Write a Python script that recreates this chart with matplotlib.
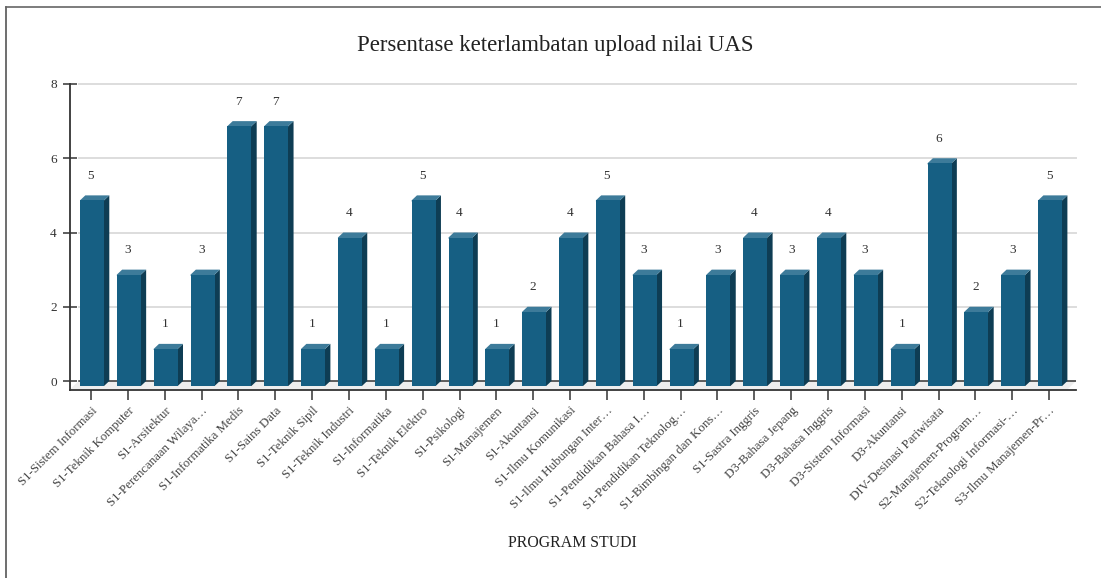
import matplotlib
matplotlib.use("Agg")
import matplotlib.pyplot as plt
from matplotlib.patches import Polygon
from matplotlib.lines import Line2D
from matplotlib.transforms import ScaledTranslation

programs = ["S1-Sistem Informasi", "S1-Teknik Komputer", "S1-Arsitektur", "S1-Perencanaan Wilaya…",
            "S1-Informatika Medis", "S1-Sains Data", "S1-Teknik Sipil", "S1-Teknik Industri",
            "S1-Informatika", "S1-Teknik Elektro", "S1-Psikologi", "S1-Manajemen", "S1-Akuntansi",
            "S1-Ilmu Komunikasi", "S1-Ilmu Hubungan Inter…", "S1-Pendidikan Bahasa I…",
            "S1-Pendidikan Teknolog…", "S1-Bimbingan dan Kons…", "S1-Sastra Inggris",
            "D3-Bahasa Jepang", "D3-Bahasa Inggris", "D3-Sistem Informasi", "D3-Akuntansi",
            "DIV-Desinasi Pariwisata", "S2-Manajemen-Program…", "S2-Teknologi Informasi-…",
            "S3-Ilmu Manajemen-Pr…"]
values = [5, 3, 1, 3, 7, 7, 1, 4, 1, 5, 4, 1, 2, 4, 5, 3, 1, 3, 4, 3, 4, 3, 1, 6, 2, 3, 5]
y_ticks = [0, 2, 4, 6, 8]

W, H = 1101, 578
DPI = 100
plt.rcParams["font.family"] = ["Liberation Serif", "DejaVu Serif"]
fig = plt.figure(figsize=(W / DPI, H / DPI), dpi=DPI)

L, R, T, B = 69.5, 1076.0, 84.0, 390.0
ax = fig.add_axes([L / W, 1 - B / H, (R - L) / W, (B - T) / H])
sx, sy = 36.85, 37.125           # px per data unit
x0 = 91.0
ax.set_xlim((L - x0) / sx, (R - x0) / sx)
ax.set_ylim(-(B - 381) / sy, 8)
dx, dy = 5.3 / sx, 5.0 / sy      # 3-D depth
half = 12.0 / sx
shift = 1.0 / sx

for s in ("top", "right"):
    ax.spines[s].set_visible(False)
for s in ("left", "bottom"):
    ax.spines[s].set_color("#333333")
    ax.spines[s].set_linewidth(1.3)

# floor and back wall lines
xa, xb = ax.get_xlim()
ax.add_patch(Polygon([(xa, -9 / sy), (xa + 9 / sx, 0), (xb, 0), (xb - 9 / sx, -9 / sy)],
                     closed=True, fc="#eeeeee", ec="none", zorder=1))
ax.plot([xa + 9 / sx, xb], [0, 0], color="#333333", lw=1.1, zorder=2)
ax.set_axisbelow(True)
for t in y_ticks[1:]:
    ax.plot([xa + 9 / sx, xb], [t, t], color="#dddddd", lw=1.4, zorder=1, clip_on=False)

for i, v in enumerate(values):
    c = i + shift
    l, r = c - half, c + half
    # side and top first, running under the front face so no light seam shows
    ax.add_patch(Polygon([(r - half / 4, -dy), (r, -dy), (r + dx, 0), (r + dx, v), (r, v - dy), (r - half / 4, v - dy)],
                         closed=True, fc="#0e3d54", ec="none", zorder=3))
    ax.add_patch(Polygon([(l, v - dy - 0.03), (r, v - dy - 0.03), (r, v - dy), (r + dx, v), (l + dx, v), (l, v - dy)],
                         closed=True, fc="#3d7b9a", ec="none", zorder=3))
    ax.bar(c, v, width=2 * half, bottom=-dy, color="#165f83", zorder=4)
    ax.annotate(str(v), (i, v), xytext=(0, 19.5 * 72 / DPI), textcoords="offset points",
                ha="center", va="center", fontsize=9.5, color="#333333", zorder=5)

ax.set_yticks(y_ticks)
ax.tick_params(axis="y", direction="inout", length=9.4, width=1.1, color="#333333",
               labelsize=9.5, labelcolor="#333333", pad=4.5)
ax.set_xticks(range(len(programs)))
ax.set_xticklabels(programs, rotation=45, ha="right", va="top", rotation_mode="anchor",
                   fontsize=9.3, color="#444444")
off = ScaledTranslation(9 / DPI, 0, fig.dpi_scale_trans)
for lab in ax.get_xticklabels():
    lab.set_transform(lab.get_transform() + off)
ax.tick_params(axis="x", direction="inout", length=15, width=1.1, color="#333333", pad=3)
for tk in ax.xaxis.get_major_ticks():
    tk.tick1line.set_zorder(6)

fig.text(555 / W, 1 - 46 / H, "Persentase keterlambatan upload nilai UAS", ha="center", va="center",
         fontsize=16.4, color="#222222")
fig.text(572 / W, 1 - 543 / H, "PROGRAM STUDI", ha="center", va="center", fontsize=11.4, color="#222222")

# outer frame of the screenshot
fig.add_artist(Line2D([6.5 / W, 6.5 / W], [0, 1 - 6.5 / H], color="#555555", lw=1.2))
fig.add_artist(Line2D([6.5 / W, 1], [1 - 6.5 / H, 1 - 6.5 / H], color="#666666", lw=1.2))

fig.savefig("out.png", dpi=DPI)
